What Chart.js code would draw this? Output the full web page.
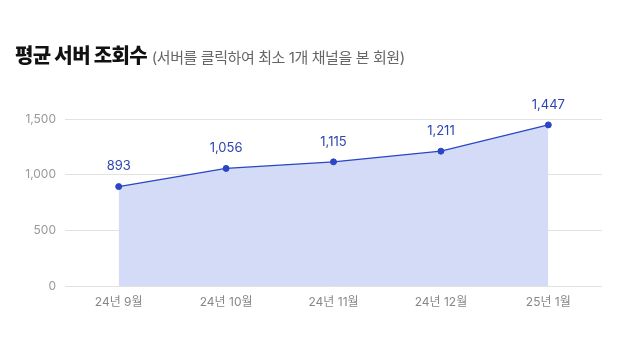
<!DOCTYPE html>
<html><head><meta charset="utf-8">
<script src="https://cdn.jsdelivr.net/npm/chart.js@4"></script>
<style>
html,body{margin:0;padding:0;background:#fff;width:626px;height:357px;overflow:hidden;}
#wrap{position:relative;width:626px;height:357px;}
#title{position:absolute;left:15px;top:43px;white-space:nowrap;font-family:Inter,"Noto Sans CJK KR",sans-serif;line-height:26px;}
#title .t{font-size:20px;font-weight:800;color:#111;letter-spacing:-0.6px;}
#title .s{font-size:15px;color:#666;letter-spacing:-0.4px;}
canvas{position:absolute;left:0;top:0;}
</style></head>
<body><div id="wrap"><canvas id="c" width="626" height="357"></canvas>
<div id="title"><span class="t">평균 서버 조회수</span> <span class="s">(서버를 클릭하여 최소 1개 채널을 본 회원)</span></div></div>
<script>
const categories = ["24년 9월","24년 10월","24년 11월","24년 12월","25년 1월"];
const views = [893,1056,1115,1211,1447];
const yTicks = [0,500,1000,1500];

const FONT = 'Inter, "Noto Sans CJK KR", sans-serif';
const valueLabels = {
  id:'valueLabels',
  afterDatasetsDraw(chart){
    const ctx = chart.ctx;
    const meta = chart.getDatasetMeta(0);
    ctx.save();
    ctx.font = '13px ' + FONT;
    ctx.fillStyle = '#2f45b0';
    ctx.textAlign = 'center';
    ctx.textBaseline = 'middle';
    meta.data.forEach((pt,i)=>{
      ctx.fillText(views[i].toLocaleString('en-US'), pt.x, pt.y - 20);
    });
    ctx.restore();
  }
};

new Chart(document.getElementById('c'), {
  type:'line',
  data:{labels:categories, datasets:[{
    data:views,
    borderColor:'#2b45c5',
    borderWidth:1.3,
    backgroundColor:'#d3dbf6',
    fill:'origin',
    pointRadius:3,
    pointBackgroundColor:'#2b45c5',
    pointBorderColor:'#2b45c5',
    pointBorderWidth:1,
    tension:0
  }]},
  options:{
    responsive:false,
    animation:false,
    layout:{padding:{top:119,right:24,left:0,bottom:0}},
    plugins:{legend:{display:false},tooltip:{enabled:false},title:{display:false}},
    scales:{
      x:{
        offset:true,
        grid:{display:false,drawTicks:false},
        border:{display:false},
        ticks:{color:'#888',font:{family:FONT,size:12},padding:9},
        afterFit(s){s.height=71;}
      },
      y:{
        min:0,max:1500,
        afterBuildTicks(s){s.ticks = yTicks.map(v=>({value:v}));},
        grid:{color:'#e2e2e2',drawTicks:false,lineWidth:1},
        border:{display:false},
        ticks:{color:'#999',font:{family:FONT,size:12},padding:9,
          callback:v=>v.toLocaleString('en-US')},
        afterFit(s){s.width=65;}
      }
    }
  },
  plugins:[valueLabels]
});
</script></body></html>
